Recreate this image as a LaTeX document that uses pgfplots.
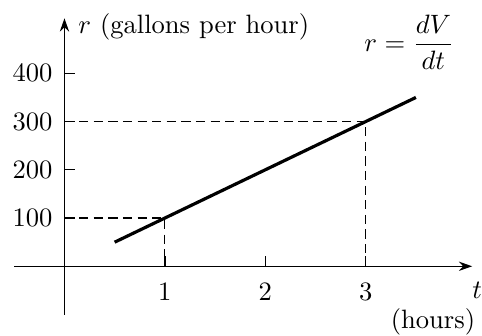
\documentclass[border=0pt]{standalone}
\usepackage{pgfplots}
\pgfplotsset{compat=1.18}
\usetikzlibrary{arrows.meta}

\begin{document}
\begin{tikzpicture}
\begin{axis}[
    x=37.8pt, y=0.1816pt,
    axis lines=middle,
    axis line style={line width=0.5pt, -{Stealth[length=5pt,width=3.5pt]}},
    xmin=-0.5, xmax=4.06,
    ymin=-100, ymax=514,
    xtick={1,2,3},
    ytick={100,200,300,400},
    tick align=inside,
    major tick length=4pt,
    tick style={line width=0.5pt, black},
    xticklabel style={yshift=-3pt},
    yticklabel style={xshift=-1pt},
    clip=false,
]

% rate line r(t)
\addplot[black, line width=1.2pt] coordinates {(0.5,50) (3.5,350)};

% guide lines
\addplot[black, line width=0.45pt, dash pattern=on 3.5pt off 2pt] coordinates {(0,100) (1,100) (1,0)};
\addplot[black, line width=0.45pt, dash pattern=on 3.5pt off 2pt] coordinates {(0,300) (3,300) (3,0)};

\node[anchor=base west, inner sep=0pt] at (axis cs:0.134,483) {$r$ (gallons per hour)};
\node[anchor=east, inner sep=0pt] at (axis cs:3.886,465) {$\displaystyle r=\frac{dV}{dt}$};
\node[inner sep=0pt] at (axis cs:4.11,-49) {$t$};
\node[inner sep=0pt] at (axis cs:3.67,-115) {(hours)};

% keep the margins of the reference
\path (axis cs:-0.642,552) -- (axis cs:4.15,-138);
\end{axis}
\end{tikzpicture}
\end{document}
